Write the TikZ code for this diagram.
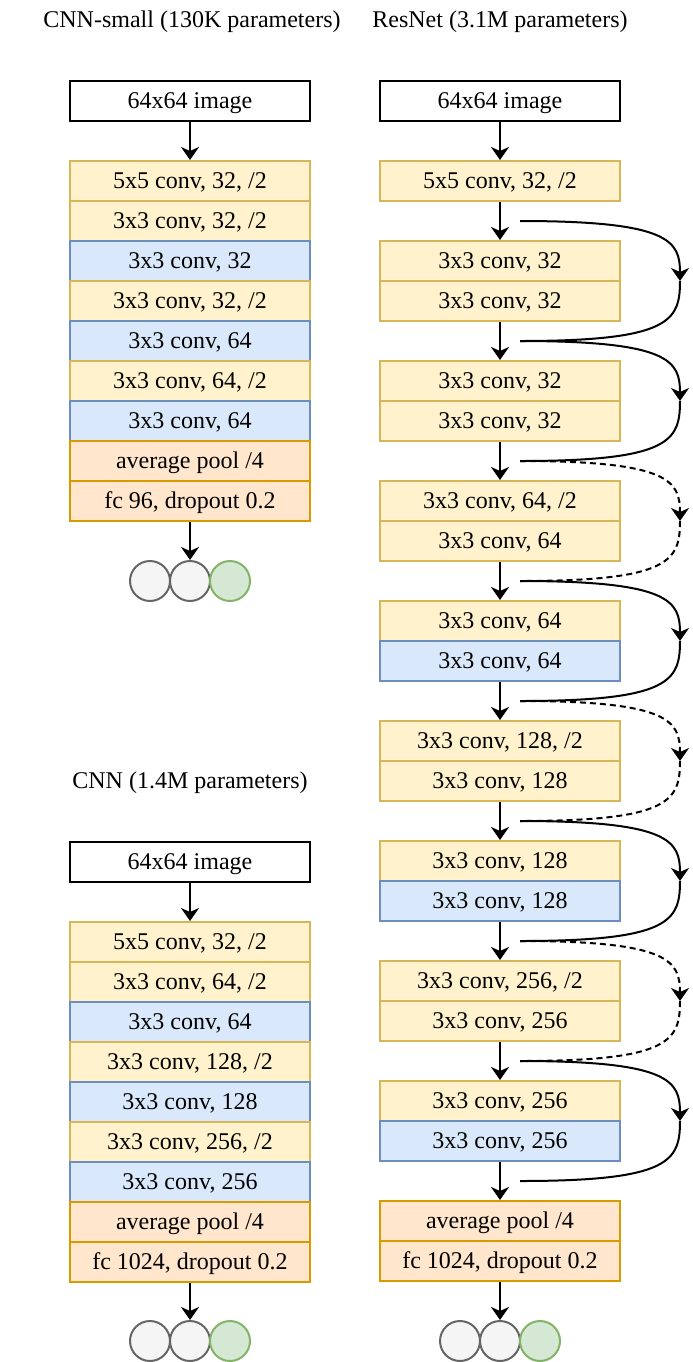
\documentclass[tikz,border=0pt]{standalone}
\usepackage{fontspec}
\setmainfont{Liberation Serif}
\usetikzlibrary{arrows.meta}

\definecolor{yelfill}{HTML}{FFF2CC}
\definecolor{yeldraw}{HTML}{D6B656}
\definecolor{blufill}{HTML}{DAE8FC}
\definecolor{bludraw}{HTML}{6C8EBF}
\definecolor{orgfill}{HTML}{FFE6CC}
\definecolor{orgdraw}{HTML}{D79B00}
\definecolor{grefill}{HTML}{F5F5F5}
\definecolor{gredraw}{HTML}{666666}
\definecolor{grnfill}{HTML}{D5E8D4}
\definecolor{grndraw}{HTML}{82B366}

\begin{document}
\begin{tikzpicture}[x=0.5pt,y=-0.5pt,line width=1pt,font=\fontsize{12}{14}\selectfont]
\tikzstyle{layer} = [draw, minimum width=120pt, minimum height=20pt, inner sep=0, text height=10pt, text depth=2.5pt]
\tikzstyle{img} = [layer, fill=white]
\tikzstyle{yel} = [layer, fill=yelfill, draw=yeldraw]
\tikzstyle{blu} = [layer, fill=blufill, draw=bludraw]
\tikzstyle{org} = [layer, fill=orgfill, draw=orgdraw]
\tikzstyle{neuron} = [circle, draw=gredraw, fill=grefill, minimum size=20pt, inner sep=0]
\tikzstyle{neurong} = [neuron, draw=grndraw, fill=grnfill]
\tikzstyle{arr} = [-{Stealth[length=6.5pt,width=9pt,inset=2pt]}]
\tikzstyle{skipdash} = [dash pattern=on 3pt off 2pt]

\useasboundingbox (0,0) rectangle (692,1362);

% Titoli
\node (t-small) at (192,22) {CNN-small (130K parameters)};
\node (t-res) at (500,22) {ResNet (3.1M parameters)};
\node (t-cnn) at (190,783) {CNN (1.4M parameters)};

% --- CNN-small -------------------------------------------------------
\node[img] (s-in) at (190,101) {64x64 image};
\foreach \t/\s [count=\i] in {{5x5 conv, 32, /2}/yel, {3x3 conv, 32, /2}/yel,
    {3x3 conv, 32}/blu, {3x3 conv, 32, /2}/yel, {3x3 conv, 64}/blu,
    {3x3 conv, 64, /2}/yel, {3x3 conv, 64}/blu, {average pool /4}/org,
    {fc 96, dropout 0.2}/org} {
  \node[\s] (s-\i) at (190,{141+40*\i}) {\t};
}
\foreach \x/\s [count=\i] in {150/neuron,190/neuron,230/neurong} {
  \node[\s] (so-\i) at (\x,581) {};
}
\draw[arr] (s-in) -- (s-1);
\draw[arr] (s-9) -- (so-2);

% --- CNN -------------------------------------------------------------
\node[img] (c-in) at (190,862) {64x64 image};
\foreach \t/\s [count=\i] in {{5x5 conv, 32, /2}/yel, {3x3 conv, 64, /2}/yel,
    {3x3 conv, 64}/blu, {3x3 conv, 128, /2}/yel, {3x3 conv, 128}/blu,
    {3x3 conv, 256, /2}/yel, {3x3 conv, 256}/blu, {average pool /4}/org,
    {fc 1024, dropout 0.2}/org} {
  \node[\s] (c-\i) at (190,{902+40*\i}) {\t};
}
\foreach \x/\s [count=\i] in {150/neuron,190/neuron,230/neurong} {
  \node[\s] (co-\i) at (\x,1341) {};
}
\draw[arr] (c-in) -- (c-1);
\draw[arr] (c-9) -- (co-2);

% --- ResNet ----------------------------------------------------------
\node[img] (r-in) at (500,101) {64x64 image};
\foreach \y/\t/\s [count=\i] in {181/{5x5 conv, 32, /2}/yel,
    261/{3x3 conv, 32}/yel, 301/{3x3 conv, 32}/yel,
    381/{3x3 conv, 32}/yel, 421/{3x3 conv, 32}/yel,
    501/{3x3 conv, 64, /2}/yel, 541/{3x3 conv, 64}/yel,
    621/{3x3 conv, 64}/yel, 661/{3x3 conv, 64}/blu,
    741/{3x3 conv, 128, /2}/yel, 781/{3x3 conv, 128}/yel,
    861/{3x3 conv, 128}/yel, 901/{3x3 conv, 128}/blu,
    981/{3x3 conv, 256, /2}/yel, 1021/{3x3 conv, 256}/yel,
    1101/{3x3 conv, 256}/yel, 1141/{3x3 conv, 256}/blu,
    1221/{average pool /4}/org, 1261/{fc 1024, dropout 0.2}/org} {
  \node[\s] (r-\i) at (500,\y) {\t};
}
\foreach \x/\s [count=\i] in {460/neuron,500/neuron,540/neurong} {
  \node[\s] (ro-\i) at (\x,1341) {};
}
\draw[arr] (r-in) -- (r-1);
\foreach \a/\b in {1/2,3/4,5/6,7/8,9/10,11/12,13/14,15/16,17/18} {
  \draw[arr] (r-\a) -- (r-\b);
}
\draw[arr] (r-19) -- (ro-2);

% collegamenti residui
\foreach \y [count=\i] in {221,341,461,581,701,821,941,1061,1181} {
  \coordinate (k-\i) at (520,\y);
  \coordinate (m-\i) at (680,{\y+60});
}
\foreach \i/\d in {1/solid,2/solid,3/skipdash,4/solid,5/skipdash,6/solid,7/skipdash,8/solid} {
  \pgfmathtruncatemacro{\j}{\i+1}
  \draw[arr,\d] (k-\i) .. controls +(150,0) and +(0,-40) .. (m-\i);
  \draw[\d] (m-\i) .. controls +(0,40) and +(150,0) .. (k-\j);
}

\end{tikzpicture}
\end{document}
